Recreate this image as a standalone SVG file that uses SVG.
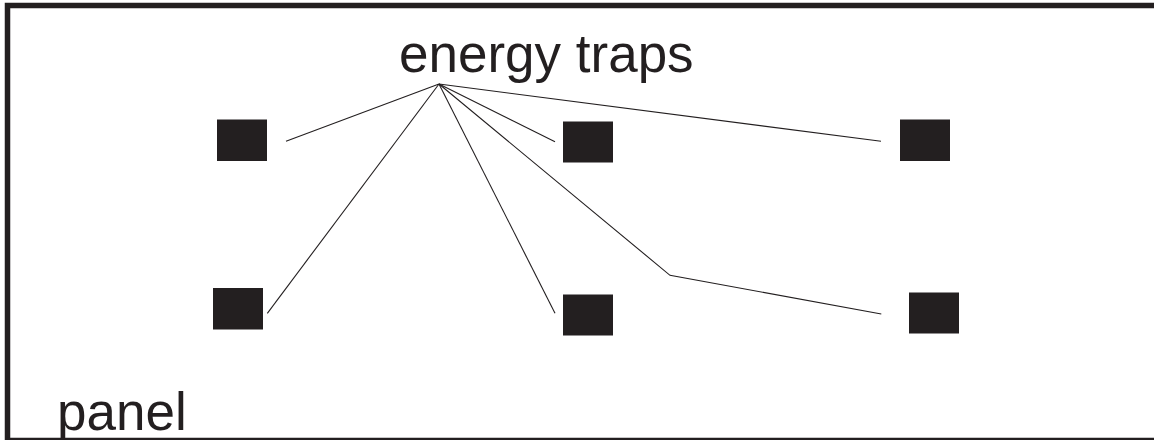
<svg xmlns="http://www.w3.org/2000/svg" width="1154" height="440" viewBox="0 0 1154 440">
<style>
.trap{fill:#231f20}
.lbl{font-family:"Liberation Sans",Arial,sans-serif;font-size:53px;fill:#231f20}
.con{fill:none;stroke:#231f20;stroke-width:1.1}
</style>
<rect width="1154" height="440" fill="#fff"/>
<g id="frame" fill="none" stroke="#231f20">
<path d="M1154,5.5 H7.5 V440" stroke-width="5.5"/>
<path d="M7,438.8 H1154" stroke-width="2.2"/>
</g>
<g id="label-energy-traps"><text class="lbl" x="399" y="71.5">energy traps</text></g>
<g id="label-panel"><text class="lbl" x="57" y="429.5">panel</text></g>
<g id="trap1"><rect class="trap" x="217" y="119.5" width="50" height="41.5"/></g>
<g id="trap2"><rect class="trap" x="213" y="288" width="50" height="41.5"/></g>
<g id="trap3"><rect class="trap" x="563" y="121.5" width="50" height="41"/></g>
<g id="trap4"><rect class="trap" x="563" y="294.5" width="50" height="41"/></g>
<g id="trap5"><rect class="trap" x="900" y="119.5" width="50" height="41.5"/></g>
<g id="trap6"><rect class="trap" x="909" y="292.5" width="50" height="41"/></g>
<g id="connectors">
<path class="con" d="M439,84 L286,141.3"/>
<path class="con" d="M439,84 L267.3,313.3"/>
<path class="con" d="M439,84 L555,141.7"/>
<path class="con" d="M439,84 L555,313.3"/>
<path class="con" d="M439,84 L881,141.3"/>
<path class="con" d="M439,84 L670,275.3 L881.3,314"/>
</g>
</svg>
